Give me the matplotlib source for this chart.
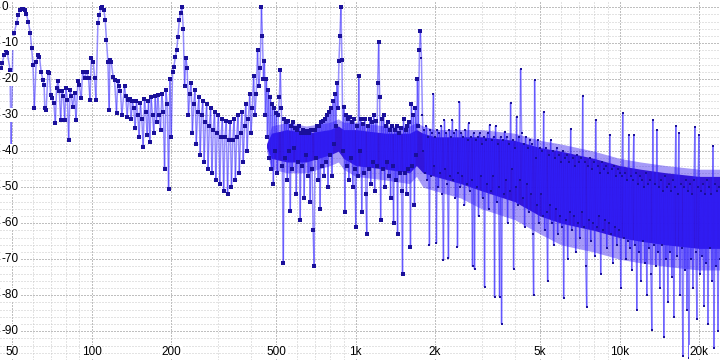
import numpy as np
import matplotlib
matplotlib.use("Agg")
import matplotlib.pyplot as plt
from matplotlib.collections import LineCollection
import matplotlib.transforms as mtransforms

# --- low end, read point by point (Hz, dB) ---
low_freq = [45.3, 45.9, 46.6, 47.3, 48.0, 49.1, 49.6, 50.3, 50.9, 52.0,
            52.8, 53.5, 54.3, 55.0, 55.8, 56.6, 57.6, 58.6, 59.3, 60.0,
            60.7, 61.7, 62.6, 63.5, 64.4, 65.4, 66.1, 66.5, 67.3, 68.4,
            69.2, 70.0, 70.8, 72.0, 72.9, 73.7, 74.6, 75.5, 76.4, 77.3,
            78.2, 79.1, 80.0, 81.0, 81.9, 82.9, 83.9, 84.8, 86.3, 87.3,
            88.8, 89.8, 91.4, 92.5, 94.1, 95.8, 97.4, 98.6, 99.8, 101.5,
            102.7, 103.9, 105.7, 106.9, 108.8, 110.0, 111.3, 112.6, 113.9, 115.3,
            116.6, 117.3, 118.6, 120.7, 122.2, 124.3, 125.7, 127.2, 128.7, 130.2,
            133.3, 134.8, 136.4, 137.9]
low_db = [-17.0, -15.6, -13.2, -11.9, -12.8, -17.4, -38.7, -11.4, -7.2, -4.4,
          -2.1, -0.9, -0.6, -0.6, -0.8, -1.9, -4.0, -7.2, -11.4, -16.0,
          -28.0, -15.1, -13.2, -13.7, -17.9, -20.2, -21.6, -28.0, -28.5, -17.9,
          -18.3, -24.4, -25.3, -26.7, -32.2, -22.5, -20.6, -23.4, -31.3, -23.4,
          -24.8, -31.3, -22.5, -25.7, -36.9, -23.0, -24.8, -27.6, -23.9, -31.3,
          -20.6, -21.6, -25.3, -17.9, -19.7, -17.9, -19.7, -25.7, -14.2, -15.1,
          -19.7, -25.7, -4.4, -2.1, -0.3, 0.0, -0.7, -3.5, -9.1, -15.1,
          -28.5, -14.6, -15.1, -19.3, -20.2, -29.4, -20.6, -22.0, -23.4, -29.9,
          -22.0, -24.8, -30.4, -25.7]

# --- 138 Hz -> 220 Hz ---
seg1_db = [-25.5, -31, -26, -28, -33.5, -26, -30, -36, -26.5, -31,
           -38.8, -25.5, -29, -35.5, -26, -37.5, -25, -30, -35, -24.8,
           -32, -24.5, -30, -34, -24, -29, -45, -23, -27, -50.5,
           -20, -36, -18, -16.5, -13.8, -12, -8.2, -3.6, -1.5, 0]

# --- 220 Hz -> 440 Hz ---
seg2_db = [-6, -22, -14, -17, -30, -24, -21, -35, -27, -23,
           -38, -29, -25, -41, -30, -26, -43, -32, -27, -45,
           -33, -28, -46, -34, -29, -48, -35, -30, -49, -36,
           -31, -51, -36, -31.5, -52, -37, -32, -50, -37, -31,
           -48, -36, -30, -46, -35, -29, -43, -33, -27, -40,
           -31, -24, -35, -28, -19, -30, -24, -12, -22, -17, 0]

# --- 440 Hz -> 880 Hz ---
seg3_db = [-8, -20, -15, -30, -20, -36, -23, -42, -25, -45,
           -27, -49, -28, -40, -29.5, -46, -30, -25, -17.5, -28,
           -44, -71, -31, -42, -32, -48, -31.5, -40, -56.5, -33,
           -45, -32, -39, -33.5, -52, -34, -43, -33, -59, -35,
           -44, -34, -53, -35, -41, -34.5, -47, -35, -54, -34,
           -45, -62, -72, -34, -42, -33, -48, -33, -56, -32,
           -44, -31.5, -47, -31, -43, -30, -50, -29, -41, -28,
           -47, -26, -38, -24, -33, -21, -28, -15, -8, 0]

# --- 880 Hz -> 1760 Hz ---
seg4_db = [-14.7, -40, -27.7, -57, -30, -44, -31, -48, -30.5, -42,
           -32, -50, -31, -45, -61, -33, -47, -19, -40, -31,
           -57, -32.5, -46, -31, -52, -63, -33, -45, -31, -49,
           -32, -43, -30, -51, -31.5, -44, -21, -9.6, -25, -59,
           -31, -45, -30, -50, -33, -43, -32, -47, -34, -53,
           -33, -44, -60, -34, -48, -33, -63, -35, -46, -33.5,
           -51, -74, -31, -46, -34, -52, -33, -45, -32, -66.6,
           -27, -44, -30, -55, -28, -41, -20, -33, -12, -6.6]

# --- 1760 Hz -> 24 kHz, dense noise band ---
high_db = [-14, -30, -40, -34, -46, -33, -48, -36, -66, -34,
           -47, -35, -24, -44, -36, -65.6, -34, -50, -35, -46,
           -33, -52, -70.3, -31.4, -45, -35, -49, -69.8, -34, -47,
           -36, -31.4, -48, -35, -53, -34, -66.6, -46, -26.3, -50,
           -35, -47, -36, -55, -34, -49, -37, -32.3, -51, -36,
           -48, -72, -35, -72.8, -37, -50, -36, -58, -35, -47,
           -38, -53, -36, -77.7, -37, -49, -35, -56, -32.8, -51,
           -37, -47, -36, -80.5, -33, -54, -38, -50, -80.5, -36,
           -87.9, -37, -52, -34.6, -48, -36, -60, -38, -51, -26.5,
           -45, -37, -72.6, -39, -50, -30.5, -55, -36, -48, -17.2,
           -35, -53, -38, -61, -36, -49, -39, -57, -37, -52,
           -38, -63, -80, -20.3, -42, -55, -37, -60, -39, -52,
           -40, -58, -29, -62, -39, -57, -76, -41, -55, -37,
           -60, -40, -66, -42, -56, -39, -63, -41, -58, -43,
           -61, -40, -80.9, -42, -59, -41, -70, -43, -57, -33.7,
           -62, -42, -58, -44, -68, -41, -60, -43, -64, -42,
           -57, -24.6, -61, -43, -72, -83.2, -44, -59, -42, -65,
           -45, -60, -43, -69, -31.4, -61, -44, -58, -46, -74,
           -43, -62, -45, -59, -44, -67, -46, -60, -35.6, -63,
           -45, -71, -44, -61, -47, -66, -45, -62, -46, -78,
           -47, -29.3, -64, -46, -70, -48, -65, -35.6, -67, -47,
           -73, -48, -35.4, -66, -46, -84, -49, -68, -47, -76,
           -48, -65, -50, -71, -46, -80, -49, -67, -48, -74,
           -89.7, -31.4, -66, -49, -72, -34, -68, -50, -78, -48,
           -66, -51, -91.6, -47, -70, -50, -82, -49, -68, -51,
           -75, -48, -86, -50, -33, -69, -52, -35, -80, -49,
           -67, -97, -50, -73, -48, -84, -51, -97.5, -49, -70,
           -52, -78, -48, -33.2, -68, -86.5, -50, -35.6, -74, -51,
           -69, -49, -83, -52, -71, -48, -88, -50, -67, -52,
           -76, -38.5, -94.7, -49, -72, -51, -90, -50, -70]

# envelope of the densest part of the noise band
env_freq = [460, 480, 550, 650, 800, 860, 900, 1000, 1300, 1600, 1700, 1800,
            2000, 2500, 3000, 4000, 5000, 6000, 8000, 10000, 12000, 15000, 20000, 24000]
core_top = [-38, -35, -34, -35, -34, -33, -34, -34, -35, -35, -34, -35,
            -36, -36, -36, -37, -39, -40, -42, -44, -45, -46, -47, -47]
core_bot = [-39, -42, -43, -43, -41, -40, -42, -44, -45, -46, -44, -46,
            -47, -49, -51, -54, -58, -60, -62, -64, -65, -66, -67, -67]
fringe_top = [-38, -33, -32, -33, -32, -31, -32, -32, -33, -33, -32, -33,
              -34, -34, -34, -35, -37, -38, -40, -42, -43, -44, -45, -45]
fringe_bot = [-40, -45, -46, -46, -44, -43, -45, -47, -48, -49, -47, -50,
              -51, -53, -56, -59, -63, -66, -68, -70, -71, -72, -73, -73]

xticks = [50, 100, 200, 500, 1000, 2000, 5000, 10000, 20000]
xlabels = ['50', '100', '200', '500', '1k', '2k', '5k', '10k', '20k']
xminor = [60, 70, 80, 90, 300, 400, 600, 700, 800, 900,
          3000, 4000, 6000, 7000, 8000, 9000]
yticks = [0, -10, -20, -30, -40, -50, -60, -70, -80, -90]


def seg(f0, f1, vals):
    f = np.geomspace(f0, f1, len(vals) + 1)[1:]
    return f, np.array(vals, dtype=float)


parts = [(np.array(low_freq), np.array(low_db)),
         seg(low_freq[-1], 220, seg1_db),
         seg(220, 440, seg2_db),
         seg(440, 880, seg3_db),
         seg(880, 1760, seg4_db),
         seg(1760, 24000, high_db)]
freq = np.concatenate([p[0] for p in parts])
db = np.concatenate([p[1] for p in parts])

plt.rcParams['font.family'] = ['Liberation Sans', 'DejaVu Sans']

fig = plt.figure(figsize=(7.2, 3.6), dpi=100)
ax = fig.add_axes([0, 0, 1, 1])
ax.set_xscale('log')
ax.set_xlim(45, 24000)
ax.set_ylim(-98, 2)

ax.set_xticks(xticks)
ax.set_xticks(xminor, minor=True)
ax.set_yticks(yticks)
ax.set_yticks(np.arange(-98, 2, 2), minor=True)
ax.grid(which='major', color='#808080', linestyle=(0, (1, 2)), linewidth=0.72)
ax.grid(which='minor', color='#c8c8c8', linestyle=(0, (1, 2)), linewidth=0.72)
ax.tick_params(which='both', length=0, labelbottom=False, labelleft=False)
for s in ax.spines.values():
    s.set_visible(False)

ax.fill_between(env_freq, fringe_top, fringe_bot, color='#3a20f0', alpha=0.45, lw=0, zorder=2)
ax.fill_between(env_freq, core_top, core_bot, color='#2608d8', alpha=0.9, lw=0, zorder=2)

pts = np.column_stack([freq, db])
segs = np.stack([pts[:-1], pts[1:]], axis=1)
lc = LineCollection(segs, colors='#3020ff', alpha=0.5, linewidths=1.1, zorder=3)
ax.add_collection(lc)
lo = freq <= 1760
ax.plot(freq[lo], db[lo], ls='none', marker='s', ms=2.2, mew=0, color='#1a109a', zorder=4)
ax.plot(freq[~lo], db[~lo], ls='none', marker='s', ms=1.7, mew=0, color='#1a109a', zorder=4)

bb = dict(facecolor='white', edgecolor='none', pad=0.5)
ytr = mtransforms.blended_transform_factory(ax.transAxes, ax.transData)
for v in yticks:
    ax.text(2 / 720, v, str(v), transform=ytr, ha='left', va='center',
            fontsize=8.5, bbox=bb, zorder=6)
xtr = mtransforms.blended_transform_factory(ax.transData, ax.transAxes)
for v, lab in zip(xticks, xlabels):
    ax.text(v, 8 / 360, lab, transform=xtr, ha='center', va='center',
            fontsize=8.5, bbox=bb, zorder=6)

fig.savefig('out.png', dpi=100)
